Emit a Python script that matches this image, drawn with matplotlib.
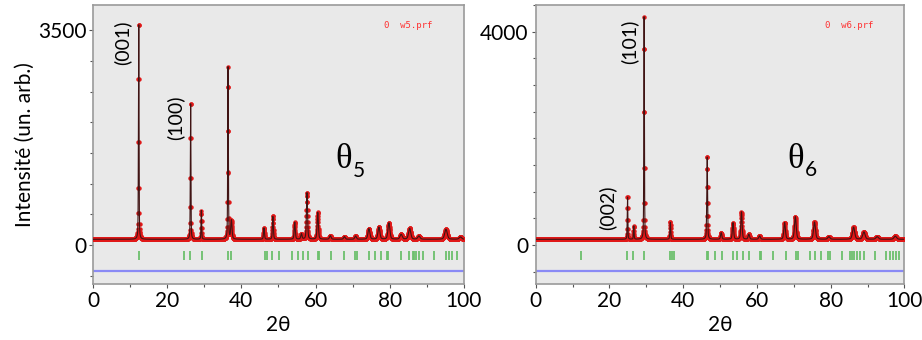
import numpy as np
import matplotlib.pyplot as plt
from matplotlib.ticker import MultipleLocator

plt.rcParams['font.family'] = ['Lato', 'DejaVu Sans']

# Echantillon theta5 : pics (position 2theta, sommet, largeur)
pos5 = [12.3, 26.3, 29.2, 36.4, 37.3, 46.1, 48.5, 54.4, 56.2, 57.7, 60.6,
        64.0, 67.8, 70.8, 74.4, 77.1, 79.8, 83.1, 85.4, 87.9, 95.2, 99.1]
top5 = [3730, 2390, 560, 2900, 400, 280, 470, 370, 180, 860, 530,
        150, 135, 145, 265, 290, 360, 170, 270, 145, 255, 130]
fw5 = [0.18, 0.18, 0.2, 0.2, 0.4, 0.3, 0.3, 0.35, 0.4, 0.35, 0.4,
       0.5, 0.5, 0.5, 0.6, 0.6, 0.6, 0.7, 0.7, 0.7, 0.8, 0.8]
base5 = 92
bragg5 = [12.5, 24.5, 26.1, 29.3, 36.5, 37.1, 46.4, 46.8, 48.3, 50.1, 53.7,
          55.2, 56.5, 57.9, 60.6, 61.0, 64.3, 67.7, 70.6, 71.1, 74.5, 76.0,
          77.8, 79.2, 79.6, 83.0, 85.3, 86.2, 86.6, 87.2, 87.9, 89.0, 91.9,
          95.1, 96.0, 96.9, 98.2]

# Echantillon theta6
pos6 = [24.9, 26.6, 29.4, 36.5, 46.5, 50.3, 53.5, 55.8, 57.8, 60.7, 67.5,
        70.4, 75.6, 79.5, 86.2, 89.0, 92.6, 97.5]
top6 = [930, 355, 4280, 430, 1680, 230, 420, 620, 200, 170, 420,
        530, 430, 155, 335, 245, 155, 165]
fw6 = [0.18, 0.2, 0.18, 0.25, 0.25, 0.4, 0.4, 0.4, 0.45, 0.5, 0.5,
       0.55, 0.6, 0.7, 0.7, 0.75, 0.8, 0.8]
base6 = 106
bragg6 = [12.4, 24.7, 26.5, 29.3, 36.5, 37.0, 37.4, 46.4, 46.8, 48.6, 50.4,
          53.5, 54.7, 56.2, 57.8, 60.7, 61.2, 64.3, 67.9, 70.6, 71.0, 74.4,
          75.8, 77.3, 79.3, 79.8, 83.0, 85.1, 85.8, 86.4, 87.1, 88.0, 89.0,
          91.9, 95.1, 96.0, 96.9, 97.8, 98.5]


def profil(x, pos, top, fw, base):
    y = np.full_like(x, base, dtype=float)
    for p, h, w in zip(pos, top, fw):
        g = np.exp(-4 * np.log(2) * ((x - p) / w) ** 2)
        l = 1 / (1 + 4 * ((x - p) / w) ** 2)
        y += (h - base) * (0.6 * g + 0.4 * l)
    return y


def panneau(ax, pos, top, fw, base, bragg, ytop, ylim, tick_y, diff_y, prf, prf_y):
    x = np.arange(0, 100.01, 0.04)
    y = profil(x, pos, top, fw, base)
    ax.set_facecolor('#e9e9e9')
    ax.plot(x, y, 'o', color='#e01818', ms=3.2, mew=0, zorder=3)
    ax.plot(x, y, color='#401414', lw=0.8, zorder=4)
    ax.vlines(bragg, tick_y[0], tick_y[1], color='#6cc06c', lw=1.3, zorder=2)
    ax.axhline(diff_y, color='#8a8af5', lw=1.6, zorder=2)
    ax.text(78.5, prf_y, '0  ' + prf, color='#ff3030', fontsize=6.5,
            family='DejaVu Sans Mono', va='center')

    ax.set_xlim(0, 100)
    ax.set_ylim(*ylim)
    ax.set_xticks([0, 20, 40, 60, 80, 100])
    ax.xaxis.set_minor_locator(MultipleLocator(10))
    ax.set_yticks([0, ytop])
    ax.yaxis.set_minor_locator(MultipleLocator(500))
    ax.tick_params(axis='both', which='major', labelsize=15, length=3, width=0.8,
                   color='#555555', pad=2)
    ax.tick_params(axis='both', which='minor', length=2.5, width=0.8, color='#555555')
    for s in ax.spines.values():
        s.set_color('#9a9a9a')
        s.set_linewidth(1.2)
    ax.set_xlabel('2θ', fontsize=15, labelpad=3)


def theta(ax, x, y, n):
    ax.text(x, y, 'θ', fontsize=25, family='Liberation Serif', va='baseline')
    ax.annotate(n, (x, y), xytext=(13, -6), textcoords='offset points',
                fontsize=15, va='baseline')


fig = plt.figure(figsize=(9.22, 3.40), dpi=100)
ax1 = fig.add_axes([0.101, 0.165, 0.402, 0.820])
ax2 = fig.add_axes([0.581, 0.165, 0.400, 0.820])

panneau(ax1, pos5, top5, fw5, base5, bragg5, 3500, (-635, 3910),
        (-245, -98), -423, 'w5.prf', 3570)
panneau(ax2, pos6, top6, fw6, base6, bragg6, 4000, (-730, 4500),
        (-280, -113), -488, 'w6.prf', 4110)

ax1.text(8.0, 3290, '(001)', rotation=90, fontsize=14, ha='center', va='center')
ax1.text(22.1, 2076, '(100)', rotation=90, fontsize=14, ha='center', va='center')
theta(ax1, 65.3, 1250, '5')
ax1.set_ylabel('Intensité (un. arb.)', fontsize=15, labelpad=2)

ax2.text(25.4, 3815, '(101)', rotation=90, fontsize=14, ha='center', va='center')
ax2.text(19.4, 694, '(002)', rotation=90, fontsize=14, ha='center', va='center')
theta(ax2, 68.2, 1450, '6')

plt.savefig('out.png', dpi=100)
